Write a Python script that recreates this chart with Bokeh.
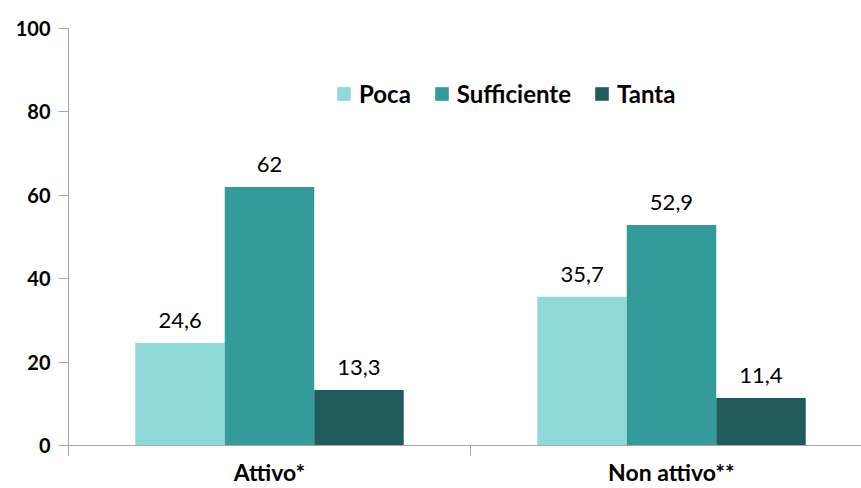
from bokeh.plotting import figure
from bokeh.models import ColumnDataSource, Range1d, FixedTicker, Legend, LegendItem, LabelSet
from bokeh.transform import dodge
from bokeh.core.properties import value
from bokeh.embed import file_html
from bokeh.resources import INLINE

categories = ["Attivo*", "Non attivo**"]
series = ["Poca", "Sufficiente", "Tanta"]
poca = [24.6, 35.7]
sufficiente = [62, 52.9]
tanta = [13.3, 11.4]
colors = ["#8FDAD8", "#339B99", "#1F5C5B"]
y_ticks = [0, 20, 40, 60, 80, 100]

FONT = "Lato"
AXIS_COLOR = "#A6A6A6"

centers = [i + 0.5 for i in range(len(categories))]
bounds = list(range(len(categories) + 1))

def fmt(v):
    return ("%g" % v).replace(".", ",")

src = ColumnDataSource(dict(
    x=centers,
    Poca=poca, Sufficiente=sufficiente, Tanta=tanta,
    Poca_lbl=[fmt(v) for v in poca],
    Sufficiente_lbl=[fmt(v) for v in sufficiente],
    Tanta_lbl=[fmt(v) for v in tanta],
))

W, H = 861, 488
LEFT = 68
frame_w = W - LEFT
cat_px = 402.0
p = figure(width=W, height=H, output_backend="svg", toolbar_location=None,
           x_range=Range1d(0, frame_w / cat_px), y_range=Range1d(0, 100),
           min_border_left=LEFT, min_border_right=0, min_border_top=28, min_border_bottom=42)
p.outline_line_color = None
p.xgrid.grid_line_color = None
p.ygrid.grid_line_color = None
p.background_fill_color = "white"
p.border_fill_color = "white"

bw = 0.2226
offsets = [-bw, 0.0, bw]
items = []
for name, col, off in zip(series, colors, offsets):
    r = p.vbar(x=dodge("x", off, range=p.x_range), top=name, width=bw, source=src,
               fill_color=col, line_color=None)
    items.append(LegendItem(label=name, renderers=[r]))
    lbl = LabelSet(x=dodge("x", off, range=p.x_range), y=name, text=name + "_lbl", source=src,
                   text_align="center", text_baseline="alphabetic", y_offset=15,
                   text_font=value(FONT), text_font_size=value("22px"), text_color="#000000")
    p.add_layout(lbl)

legend = Legend(items=items, orientation="horizontal", location=(267, 337),
                label_text_font=FONT, label_text_font_size="24px", label_text_font_style="bold",
                label_text_color="#000000", glyph_width=17, glyph_height=17,
                label_standoff=7, spacing=22, padding=0, margin=0,
                border_line_color=None, background_fill_alpha=0)
p.add_layout(legend)

# y axis
p.yaxis.ticker = FixedTicker(ticks=y_ticks)
p.yaxis.axis_line_color = AXIS_COLOR
p.yaxis.major_tick_line_color = AXIS_COLOR
p.yaxis.major_tick_in = 0
p.yaxis.major_tick_out = 10
p.yaxis.minor_tick_line_color = None
p.yaxis.major_label_text_font = FONT
p.yaxis.major_label_text_font_size = "20px"
p.yaxis.major_label_text_font_style = "bold"
p.yaxis.major_label_text_color = "#000000"
p.yaxis.major_label_standoff = 8

# x axis
p.xaxis.ticker = FixedTicker(ticks=centers, minor_ticks=bounds)
p.xaxis.major_label_overrides = {c: lab for c, lab in zip(centers, categories)}
p.xaxis.axis_line_color = AXIS_COLOR
p.xaxis.major_tick_line_color = None
p.xaxis.major_tick_in = 0
p.xaxis.major_tick_out = 0
p.xaxis.minor_tick_line_color = AXIS_COLOR
p.xaxis.minor_tick_in = 0
p.xaxis.minor_tick_out = 10
p.xaxis.major_label_text_font = FONT
p.xaxis.major_label_text_font_size = "23px"
p.xaxis.major_label_text_font_style = "bold"
p.xaxis.major_label_text_color = "#000000"
p.xaxis.major_label_standoff = 2

open("out.html", "w").write(file_html(p, INLINE))
